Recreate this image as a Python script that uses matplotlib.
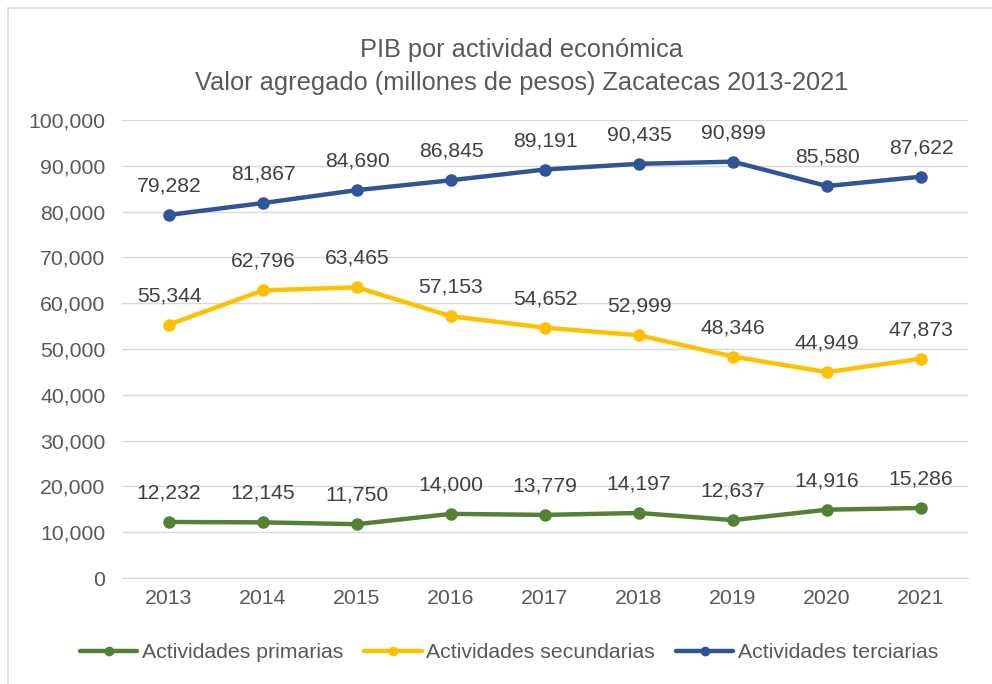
import matplotlib
matplotlib.use("Agg")
import matplotlib.pyplot as plt
from matplotlib.patches import Rectangle
from matplotlib.ticker import FuncFormatter

years = ["2013", "2014", "2015", "2016", "2017", "2018", "2019", "2020", "2021"]
primarias = [12232, 12145, 11750, 14000, 13779, 14197, 12637, 14916, 15286]
secundarias = [55344, 62796, 63465, 57153, 54652, 52999, 48346, 44949, 47873]
terciarias = [79282, 81867, 84690, 86845, 89191, 90435, 90899, 85580, 87622]
series_names = ["Actividades primarias", "Actividades secundarias", "Actividades terciarias"]
colors = ["#548235", "#FFC000", "#2F5597"]

plt.rcParams["font.family"] = ["Liberation Sans", "DejaVu Sans"]
txt = "#595959"

fig = plt.figure(figsize=(9.92, 6.84), dpi=100)
ax = fig.add_axes([122/992, 1-578/684, (968-122)/992, (578-120)/684])

x = list(range(len(years)))
for name, vals, c in zip(series_names, [primarias, secundarias, terciarias], colors):
    ax.plot(x, vals, color=c, lw=3.2, marker="o", ms=8, label=name, solid_capstyle="round", zorder=3)
    for xi, v in zip(x, vals):
        ax.annotate(f"{v:,}", (xi, v), xytext=(0, 14), textcoords="offset points",
                    ha="center", va="bottom", fontsize=15.2, color="#404040")

ax.set_ylim(0, 100000)
ax.set_xlim(-0.5, len(years) - 0.5)
ax.set_yticks(range(0, 100001, 10000))
ax.yaxis.set_major_formatter(FuncFormatter(lambda v, p: f"{int(v):,}"))
ax.set_xticks(x)
ax.set_xticklabels(years)
ax.tick_params(axis="both", length=0, labelsize=15.3, labelcolor=txt, pad=8)
ax.tick_params(axis="y", pad=12)
ax.grid(axis="y", color="#d9d9d9", lw=1)
ax.set_axisbelow(True)
for s in ["top", "right", "left"]:
    ax.spines[s].set_visible(False)
ax.spines["bottom"].set_color("#d9d9d9")

fig.text(522/992, 1-50/684, "PIB por actividad económica", ha="center", va="center", fontsize=18.3, color=txt)
fig.text(522/992, 1-83/684, "Valor agregado (millones de pesos) Zacatecas 2013-2021", ha="center", va="center", fontsize=18.3, color=txt)

leg = fig.legend(loc="center", bbox_to_anchor=(509/992, 1-653/684), ncol=3, frameon=False,
                 fontsize=15.3, handlelength=2.7, columnspacing=1.0, handletextpad=0.2)
for t in leg.get_texts():
    t.set_color(txt)
for h in leg.legend_handles:
    h.set_markersize(6)

fig.patches.append(Rectangle((8/992, -0.1), 1.2, 1.1 - 8/684, transform=fig.transFigure,
                             fill=False, edgecolor="#d9d9d9", lw=1.2))

fig.savefig("out.png", dpi=100)
